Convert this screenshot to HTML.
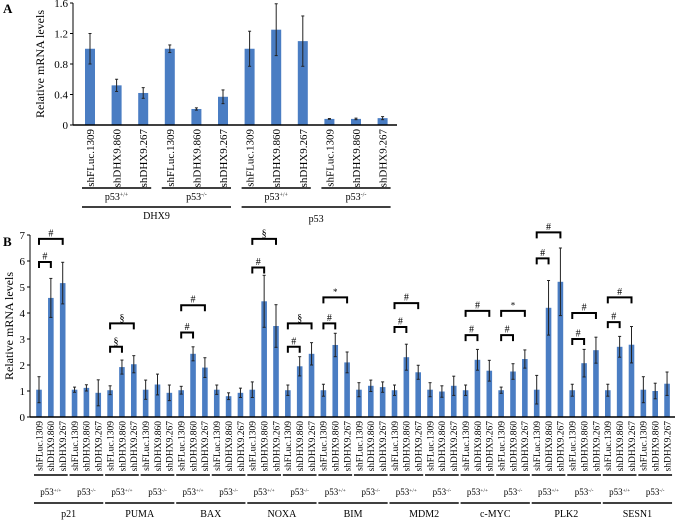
<!DOCTYPE html>
<html><head><meta charset="utf-8"><style>
html,body{margin:0;padding:0;background:#fff;}
svg{display:block;font-family:"Liberation Serif",serif;}
</style></head><body>
<svg id="fig" width="675" height="520" viewBox="0 0 675 520" xmlns="http://www.w3.org/2000/svg">
<g id="A"></g>
<g id="B"></g>
</svg>
<script>
const NS="http://www.w3.org/2000/svg";
const shLabels=["shFLuc.1309","shDHX9.860","shDHX9.267"];
// Panel A data
const aTicks=[0,0.4,0.8,1.2,1.6];
const aTickLabels=["0","0.4","0.8","1.2","1.6"];
const aValues=[1.0,0.52,0.42,1.0,0.21,0.37,1.0,1.25,1.1,0.08,0.08,0.09];
const aErrors=[0.2,0.08,0.07,0.05,0.015,0.09,0.23,0.34,0.33,0.005,0.01,0.02];
const aGroups=["+/+","-/-","+/+","-/-"];
const aGenes=["DHX9","p53"];
// Panel B data
const bTicks=[0,1,2,3,4,5,6,7];
const bTickLabels=["0","1","2","3","4","5","6","7"];
const bGenes=["p21","PUMA","BAX","NOXA","BIM","MDM2","c-MYC","PLK2","SESN1"];
const bValues=[1.05,4.58,5.15,1.05,1.12,0.93, 1.03,1.92,2.03,1.05,1.25,0.93, 1.03,2.43,1.9,1.05,0.8,0.93,
 1.05,4.45,3.5,1.03,1.95,2.43, 1.03,2.77,2.1,1.05,1.2,1.15, 1.03,2.3,1.72,1.05,0.98,1.2,
 1.03,2.2,1.78,1.03,1.75,2.23, 1.05,4.2,5.2,1.03,2.07,2.57, 1.03,2.7,2.78,1.05,1.0,1.28];
const bErrors=[0.5,0.75,0.8,0.1,0.12,0.5, 0.17,0.27,0.33,0.37,0.4,0.3, 0.15,0.27,0.38,0.18,0.13,0.18,
 0.3,1.0,0.82,0.2,0.37,0.43, 0.23,0.45,0.4,0.27,0.22,0.2, 0.2,0.5,0.27,0.27,0.22,0.37,
 0.2,0.4,0.4,0.12,0.3,0.35, 0.55,1.05,1.3,0.23,0.53,0.5, 0.23,0.4,0.7,0.5,0.3,0.45];
// brackets: [group index, bar from, bar to (within group), height, symbol]
const bBrackets=[[0,0,1,5.96,"#"],[0,0,2,6.85,"#"],[2,0,1,2.7,"§"],[2,0,2,3.6,"§"],
 [4,0,1,3.25,"#"],[4,0,2,4.3,"#"],[6,0,1,5.75,"#"],[6,0,2,6.85,"§"],[7,0,1,2.7,"#"],[7,0,2,3.6,"§"],
 [8,0,1,3.6,"#"],[8,0,2,4.6,"*"],[10,0,1,3.46,"#"],[10,0,2,4.38,"#"],[12,0,1,3.15,"#"],[12,0,2,4.08,"#"],
 [13,0,1,3.15,"#"],[13,0,2,4.08,"*"],[14,0,1,6.1,"#"],[14,0,2,7.1,"#"],[15,0,1,3.0,"#"],[15,0,2,4.0,"#"],
 [16,0,1,3.65,"#"],[16,0,2,4.6,"#"]];

function el(parent,tag,attrs,text){const e=document.createElementNS(NS,tag);for(const k in attrs)e.setAttribute(k,attrs[k]);if(text!==undefined)e.textContent=text;parent.appendChild(e);return e;}
function p53(parent,x,y,sup,fs){
 const t=el(parent,"text",{x:x,y:y,"text-anchor":"middle","font-size":fs});
 const a=document.createElementNS(NS,"tspan");a.textContent="p53";t.appendChild(a);
 const b=document.createElementNS(NS,"tspan");b.setAttribute("font-size",fs*0.6);b.setAttribute("dy",-fs*0.35);b.textContent=sup;t.appendChild(b);
 return t;}
const BLUE="#4a7dc3";

// ---- Panel A ----
(function(){
 const g=document.getElementById("A");
 const x0=73,x1=397,y0=125,yTop=3;
 const yA=v=>y0-v*(y0-yTop)/1.6;
 const xA=i=>90+i*26.6;
 const t=el(g,"text",{x:3,y:13,"font-size":13,"font-weight":"bold"},"A");
 
 const yt=el(g,"text",{x:0,y:0,"font-size":12,"text-anchor":"middle",transform:"translate(44,64) rotate(-90)"},"Relative mRNA levels");
 
 aTicks.forEach((v,i)=>{const l=el(g,"text",{x:68,y:yA(v)+4,"font-size":11,"text-anchor":"end"},aTickLabels[i]);
  
  el(g,"line",{x1:x0-3,x2:x0,y1:yA(v),y2:yA(v),stroke:"#000"});});
 aValues.forEach((v,i)=>{
  const r=el(g,"rect",{x:xA(i)-5,y:yA(v),width:10,height:y0-yA(v),fill:BLUE});
  
  const e=aErrors[i];
  el(g,"line",{x1:xA(i),x2:xA(i),y1:yA(v+e),y2:yA(v-e),stroke:"#222","stroke-width":1});
  el(g,"line",{x1:xA(i)-1.5,x2:xA(i)+1.5,y1:yA(v+e),y2:yA(v+e),stroke:"#222"});
  el(g,"line",{x1:xA(i)-1.5,x2:xA(i)+1.5,y1:yA(v-e),y2:yA(v-e),stroke:"#222"});
  const lb=el(g,"text",{x:0,y:0,"font-size":11,"text-anchor":"end",transform:`translate(${xA(i)+4},129) rotate(-90)`},shLabels[i%3]);
  
 });
 el(g,"line",{x1:x0,x2:x0,y1:yTop,y2:y0,stroke:"#000"});
 el(g,"line",{x1:x0,x2:x1,y1:y0,y2:y0,stroke:"#000","stroke-width":1.5});
 aGroups.forEach((s,k)=>{const a=xA(3*k)-8,b=xA(3*k+2)+8;
  el(g,"line",{x1:a,x2:b,y1:188,y2:188,stroke:"#000","stroke-width":1.5});
  const l=p53(g,(a+b)/2,200,s,10);});
 aGenes.forEach((s,k)=>{const a=xA(6*k)-8,b=xA(6*k+5)+8;
  el(g,"line",{x1:a,x2:b,y1:207,y2:207,stroke:"#000","stroke-width":1.5});
  const l=el(g,"text",{x:(a+b)/2,y:k==0?219:222,"font-size":10,"text-anchor":"middle"},s);
  });
})();

// ---- Panel B ----
(function(){
 const g=document.getElementById("B");
 const x0=30,x1=675,y0=417,yTop=235;
 const yB=v=>y0-v*(y0-yTop)/7;
 const xB=i=>39+i*11.85;
 const t=el(g,"text",{x:3,y:246,"font-size":13,"font-weight":"bold"},"B");
 
 const yt=el(g,"text",{x:0,y:0,"font-size":12,"text-anchor":"middle",transform:"translate(13,326) rotate(-90)"},"Relative mRNA levels");
 
 bTicks.forEach((v,i)=>{const l=el(g,"text",{x:25,y:yB(v)+4,"font-size":11,"text-anchor":"end"},bTickLabels[i]);
  
  el(g,"line",{x1:x0-3,x2:x0,y1:yB(v),y2:yB(v),stroke:"#000"});});
 bValues.forEach((v,i)=>{
  const r=el(g,"rect",{x:xB(i)-2.8,y:yB(v),width:5.6,height:y0-yB(v),fill:BLUE});
  
  const e=bErrors[i];
  el(g,"line",{x1:xB(i),x2:xB(i),y1:yB(v+e),y2:yB(v-e),stroke:"#222"});
  el(g,"line",{x1:xB(i)-1.5,x2:xB(i)+1.5,y1:yB(v+e),y2:yB(v+e),stroke:"#222"});
  el(g,"line",{x1:xB(i)-1.5,x2:xB(i)+1.5,y1:yB(v-e),y2:yB(v-e),stroke:"#222"});
  const lb=el(g,"text",{x:0,y:0,"font-size":9.5,"text-anchor":"end",transform:`translate(${xB(i)+3.3},421) rotate(-90)`},shLabels[i%3]);
  
 });
 el(g,"line",{x1:x0,x2:x0,y1:yTop,y2:y0,stroke:"#000"});
 el(g,"line",{x1:x0,x2:x1,y1:y0,y2:y0,stroke:"#000","stroke-width":1.5});
 for(let k=0;k<18;k++){const a=xB(3*k)-5,b=xB(3*k+2)+5;
  el(g,"line",{x1:a,x2:b,y1:475,y2:475,stroke:"#000","stroke-width":1.5});
  const l=p53(g,(a+b)/2,495,k%2==0?"+/+":"-/-",9);}
 bGenes.forEach((s,k)=>{const a=xB(6*k)-5,b=xB(6*k+5)+5;
  el(g,"line",{x1:a,x2:b,y1:503,y2:503,stroke:"#000","stroke-width":1.5});
  const l=el(g,"text",{x:(a+b)/2,y:517,"font-size":10,"text-anchor":"middle"},s);
  });
 bBrackets.forEach(br=>{
  const a=xB(3*br[0]+br[1]),b=xB(3*br[0]+br[2]),y=yB(br[3]);
  const p=el(g,"path",{d:`M${a},${y+6}V${y}H${b}V${y+6}`,fill:"none",stroke:"#000","stroke-width":2});
  
  const s=el(g,"text",{x:(a+b)/2,y:y-2.5,"font-size":br[4]=="*"?9:10,"text-anchor":"middle"},br[4]);
  
 });
})();
</script>
</body></html>
